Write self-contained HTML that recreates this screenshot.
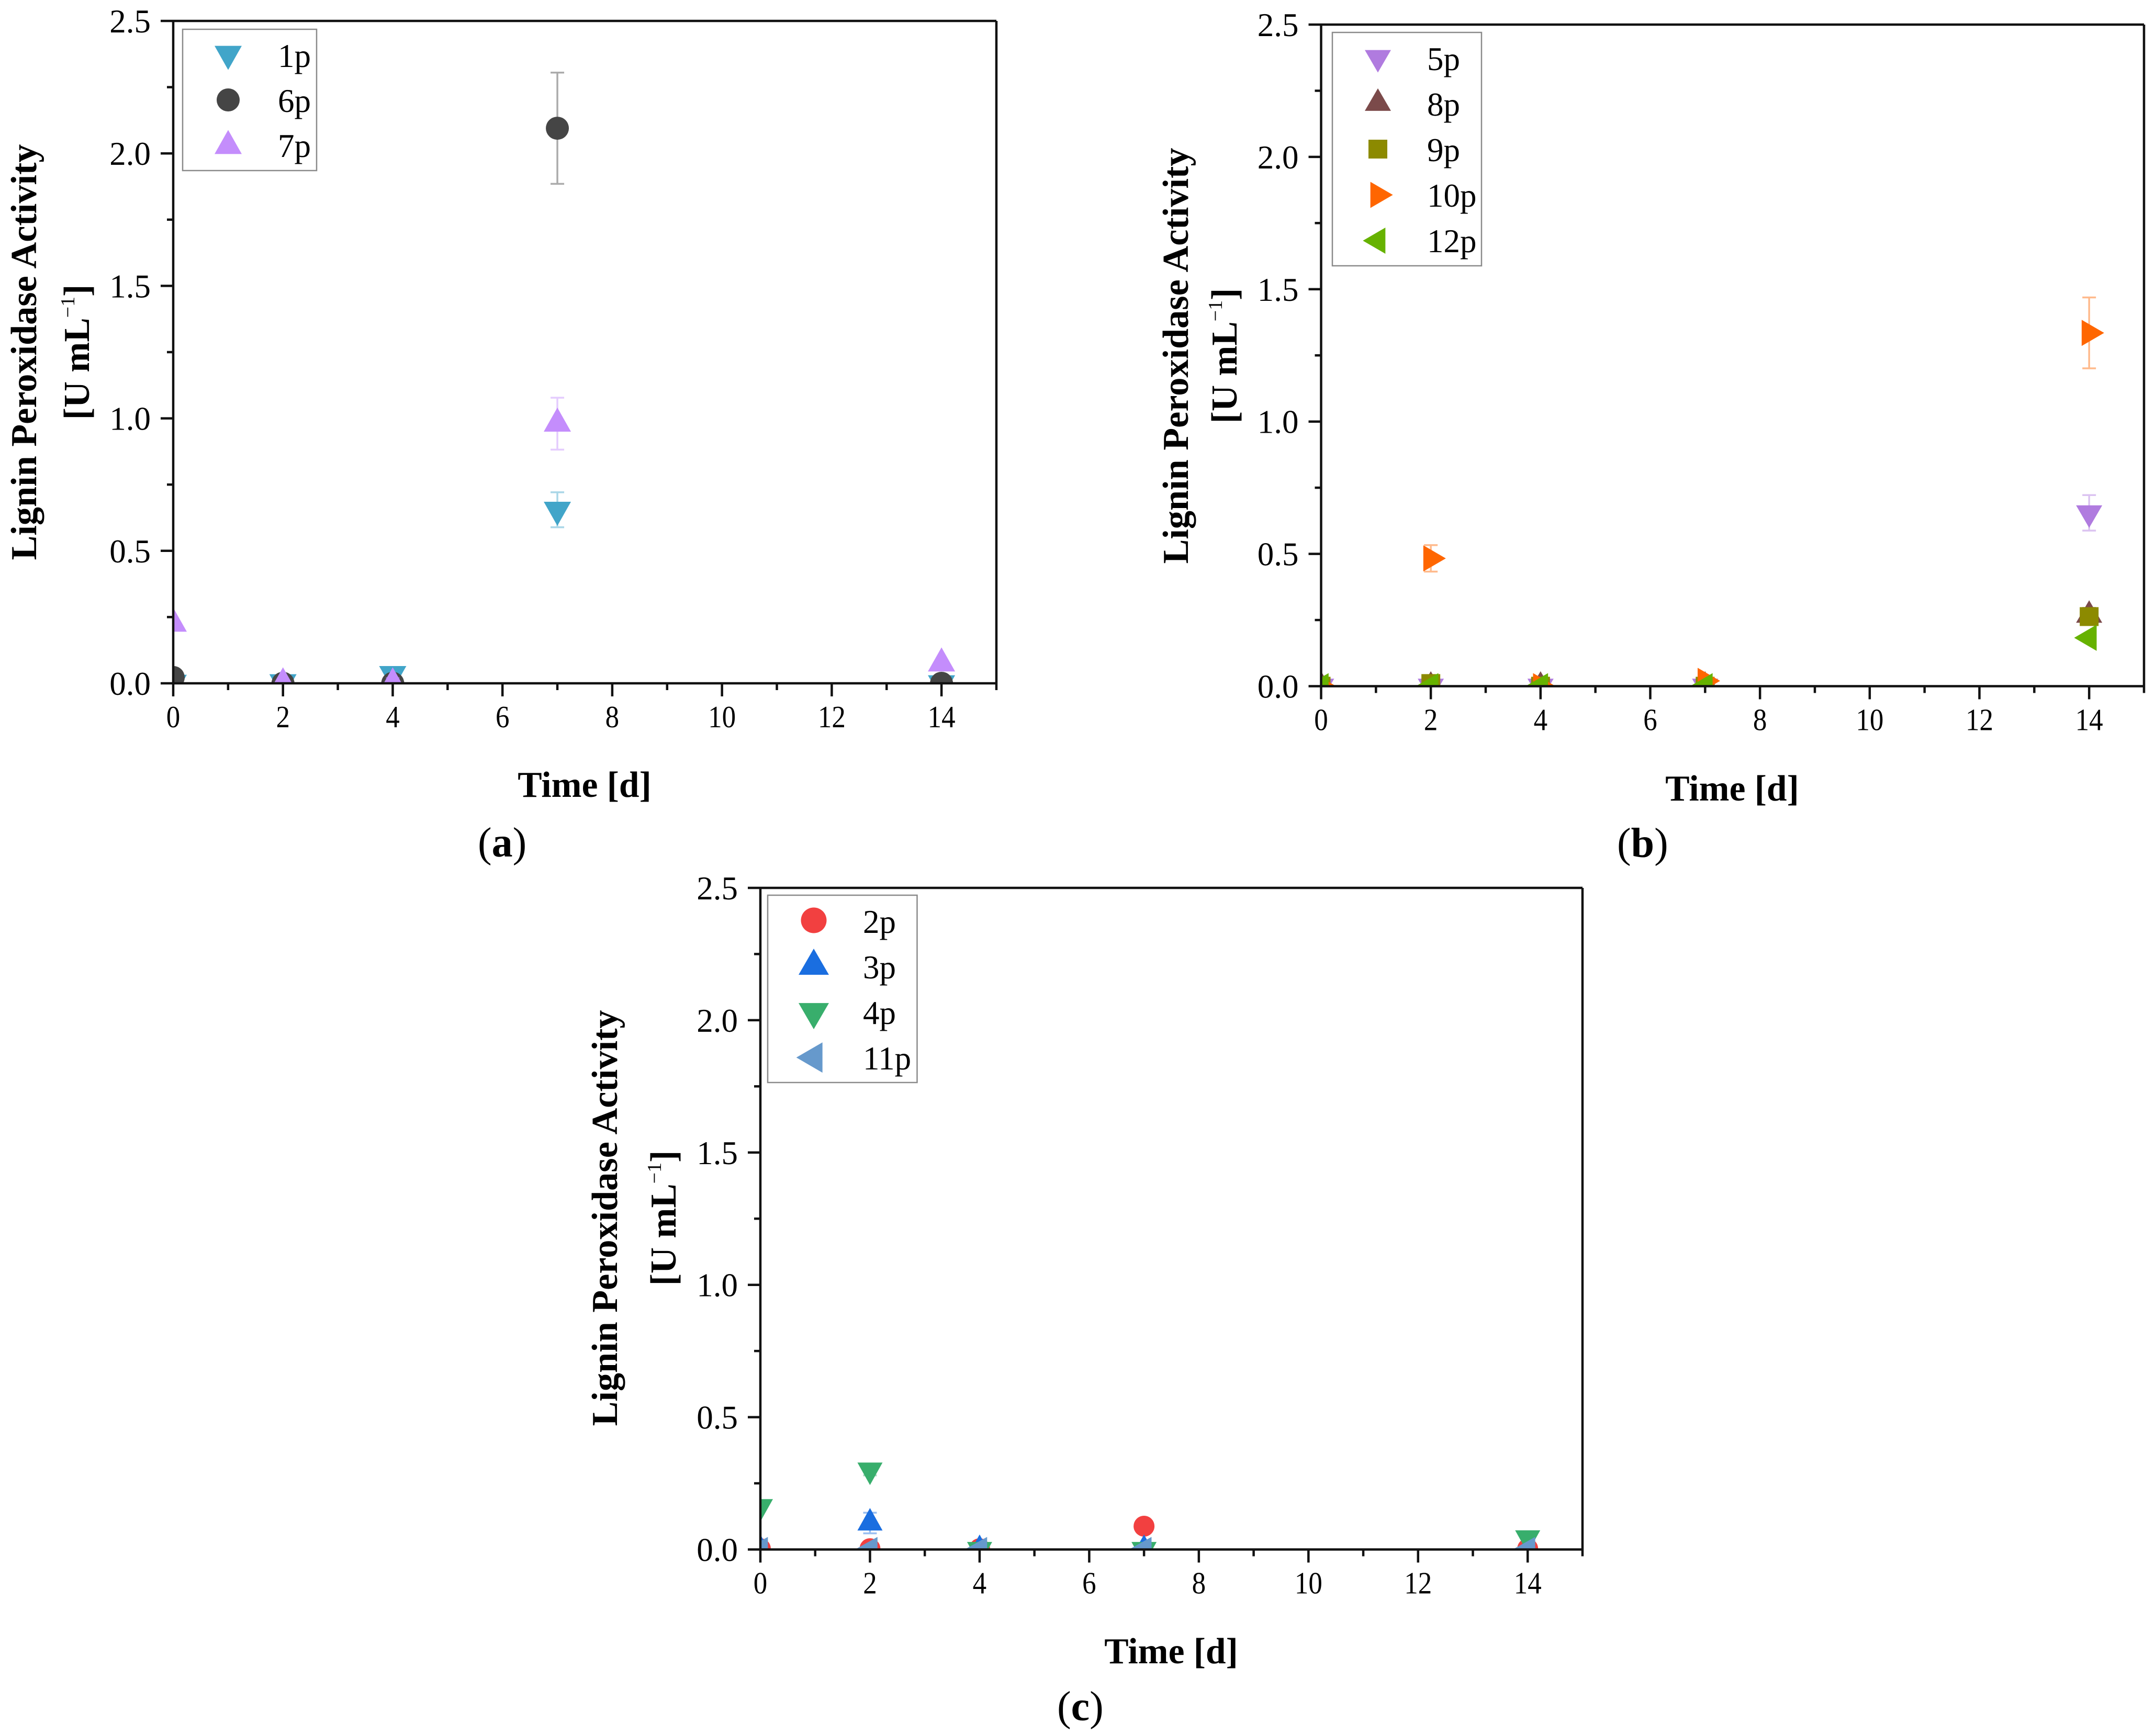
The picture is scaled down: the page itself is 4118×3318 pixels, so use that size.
<!DOCTYPE html>
<html lang="en">
<head>
<meta charset="utf-8">
<title>Lignin Peroxidase Activity</title>
<style>
html,body{margin:0;padding:0;background:#fff;}
svg{display:block;}
text{font-family:"Liberation Serif",serif;fill:#000;}
.title{font-size:69.5px;font-weight:bold;}
.panel-label{font-size:80px;}
</style>
</head>
<body>
<svg id="fig" xmlns="http://www.w3.org/2000/svg" width="4118" height="3318" viewBox="0 0 4118 3318">
  <rect width="4118" height="3318" fill="#fff"/>

  <text class="title" x="1117" y="1523" text-anchor="middle">Time [d]</text>
  <text class="title" transform="translate(69,673) rotate(-90)" text-anchor="middle" textLength="795" lengthAdjust="spacingAndGlyphs">Lignin Peroxidase Activity</text>
  <text class="title" transform="translate(170,673) rotate(-90)" text-anchor="middle">[U mL<tspan font-size="38" font-weight="normal" dy="-28">−1</tspan><tspan dy="28">]</tspan></text>
  <text class="panel-label" x="913" y="1637">(<tspan font-weight="bold">a</tspan>)</text>

  <text class="title" x="3310" y="1530" text-anchor="middle">Time [d]</text>
  <text class="title" transform="translate(2270,680) rotate(-90)" text-anchor="middle" textLength="795" lengthAdjust="spacingAndGlyphs">Lignin Peroxidase Activity</text>
  <text class="title" transform="translate(2363,680) rotate(-90)" text-anchor="middle">[U mL<tspan font-size="38" font-weight="normal" dy="-28">−1</tspan><tspan dy="28">]</tspan></text>
  <text class="panel-label" x="3090" y="1638">(<tspan font-weight="bold">b</tspan>)</text>

  <text class="title" x="2238" y="3179" text-anchor="middle">Time [d]</text>
  <text class="title" transform="translate(1179,2328) rotate(-90)" text-anchor="middle" textLength="795" lengthAdjust="spacingAndGlyphs">Lignin Peroxidase Activity</text>
  <text class="title" transform="translate(1291,2328) rotate(-90)" text-anchor="middle">[U mL<tspan font-size="38" font-weight="normal" dy="-28">−1</tspan><tspan dy="28">]</tspan></text>
  <text class="panel-label" x="2020" y="3288">(<tspan font-weight="bold">c</tspan>)</text>
</svg>
<script>
// ---- shared axes data ----
const days = [0, 2, 4, 7, 14];
const xMajorTicks = [0, 2, 4, 6, 8, 10, 12, 14];
const xMinorTicks = [1, 3, 5, 7, 9, 11, 13, 15];
const yMajorTicks = [0, 0.5, 1, 1.5, 2, 2.5];
const yMinorTicks = [0.25, 0.75, 1.25, 1.75, 2.25];
const yTickLabels = ['0.0', '0.5', '1.0', '1.5', '2.0', '2.5'];
const xTickLabels = ['0', '2', '4', '6', '8', '10', '12', '14'];

// ---- panel (a) values ----
const values1p = [0.002, 0.004, 0.035, 0.655, 0.0];
const errors1p = [0, 0, 0.01, 0.066, 0];
const values6p = [0.022, 0.0, 0.0, 2.095, 0.0];
const errors6p = [0, 0, 0, 0.21, 0];
const values7p = [0.225, 0.0, 0.0, 0.98, 0.075];
const errors7p = [0, 0, 0.02, 0.098, 0];

// ---- panel (b) values ----
const values5p = [0.0, 0.0, 0.0, 0.0, 0.655];
const errors5p = [0, 0, 0, 0, 0.067];
const values8p = [0.0, 0.0, 0.0, 0.0, 0.268];
const errors8p = [0, 0, 0, 0, 0.028];
const values9p = [0.0, 0.01, 0.0, 0.0, 0.263];
const errors9p = [0, 0, 0, 0, 0];
const values10p = [0.0, 0.483, 0.0, 0.02, 1.335];
const errors10p = [0, 0.05, 0, 0, 0.134];
const values12p = [0.0, 0.0, 0.0, 0.0, 0.183];
const errors12p = [0, 0, 0, 0, 0];

// ---- panel (c) values ----
const values2p = [0.003, 0.003, 0.003, 0.088, 0.003];
const errors2p = [0, 0, 0, 0, 0];
const values3p = [0.0, 0.1, 0.0, 0.0, 0.0];
const errors3p = [0, 0.039, 0, 0, 0];
const values4p = [0.162, 0.3, 0.0, 0.0, 0.044];
const errors4p = [0, 0.02, 0, 0, 0];
const values11p = [0.0, 0.0, 0.0, 0.0, 0.0];
const errors11p = [0, 0, 0, 0, 0];

const NS = 'http://www.w3.org/2000/svg';
const fig = document.getElementById('fig');

function make(tag, attrs, parent) {
  const node = document.createElementNS(NS, tag);
  for (const k in attrs) node.setAttribute(k, attrs[k]);
  parent.appendChild(node);
  return node;
}

function markerShape(kind, cx, cy, size, color, parent) {
  let node;
  if (kind === 'circle') {
    node = make('circle', {cx: cx, cy: cy, r: size.r, fill: color}, parent);
  } else if (kind === 'square') {
    node = make('rect', {x: cx - size.sq / 2, y: cy - size.sq / 2, width: size.sq, height: size.sq, fill: color}, parent);
  } else {
    const w = size.tw, h = size.th;
    let pts;
    if (kind === 'up') pts = [[cx, cy - 2 * h / 3], [cx + w / 2, cy + h / 3], [cx - w / 2, cy + h / 3]];
    if (kind === 'down') pts = [[cx, cy + 2 * h / 3], [cx + w / 2, cy - h / 3], [cx - w / 2, cy - h / 3]];
    if (kind === 'right') pts = [[cx + 2 * h / 3, cy], [cx - h / 3, cy - w / 2], [cx - h / 3, cy + w / 2]];
    if (kind === 'left') pts = [[cx - 2 * h / 3, cy], [cx + h / 3, cy - w / 2], [cx + h / 3, cy + w / 2]];
    node = make('polygon', {points: pts.map(p => p.join(',')).join(' '), fill: color}, parent);
  }
  return node;
}

function drawPanel(p) {
  const xScale = d => p.x0 + (d / 15) * (p.x15 - p.x0);
  const yScale = v => p.y0 - (v / 2.5) * (p.y0 - p.yTop);

  const clip = make('clipPath', {id: 'clip-' + p.id}, fig);
  make('rect', {x: xScale(0), y: yScale(2.5), width: xScale(15) - xScale(0), height: yScale(0) - yScale(2.5)}, clip);

  // series marks
  const plot = make('g', {'clip-path': 'url(#clip-' + p.id + ')'}, fig);
  
  
  p.series.forEach(s => {
    const group = make('g', {}, plot);
    
    
    days.forEach((d, i) => {
      const cx = xScale(d);
      if (s.errors[i] > 0) {
        const eb = make('path', {
          d: 'M' + cx + ' ' + yScale(s.values[i] + s.errors[i]) + 'V' + yScale(s.values[i] - s.errors[i]) +
             'M' + (cx - 13) + ' ' + yScale(s.values[i] + s.errors[i]) + 'h26' +
             'M' + (cx - 13) + ' ' + yScale(s.values[i] - s.errors[i]) + 'h26',
          fill: 'none', stroke: s.color, 'stroke-width': 3.5, 'stroke-opacity': 0.45
        }, group);
        
        
      }
      const mark = markerShape(s.kind, cx, yScale(s.values[i]), p.plotSize, s.color, group);
      
      
    });
  });

  // axes
  const axes = make('g', {stroke: '#111', 'stroke-width': 4.5, fill: 'none'}, fig);
  
  
  const frame = make('path', {
    d: 'M' + xScale(0) + ' ' + yScale(2.5) + 'V' + yScale(0) +
       'M' + xScale(0) + ' ' + yScale(2.5) + 'H' + xScale(15) +
       'M' + xScale(15) + ' ' + yScale(2.5) + 'V' + yScale(0) +
       'M' + xScale(0) + ' ' + yScale(0) + 'H' + xScale(15)
  }, axes);
  
  

  xMajorTicks.forEach((t, i) => {
    const tick = make('line', {x1: xScale(t), x2: xScale(t), y1: yScale(0), y2: yScale(0) + 25}, axes);
    
    
    const n = xTickLabels[i].length;
    const label = make('text', {x: xScale(t), y: yScale(0) + 84, 'text-anchor': 'middle', 'font-size': 59, textLength: 26.5 * n, lengthAdjust: 'spacingAndGlyphs'}, fig);
    label.textContent = xTickLabels[i];
    
    
  });
  xMinorTicks.forEach(t => {
    const tick = make('line', {x1: xScale(t), x2: xScale(t), y1: yScale(0), y2: yScale(0) + 13}, axes);
    
    
  });
  yMajorTicks.forEach((t, i) => {
    const tick = make('line', {x1: xScale(0) - 24, x2: xScale(0), y1: yScale(t), y2: yScale(t)}, axes);
    
    
    const label = make('text', {x: xScale(0) - 43, y: yScale(t) + 22, 'text-anchor': 'end', 'font-size': 63}, fig);
    label.textContent = yTickLabels[i];
    
    
  });
  yMinorTicks.forEach(t => {
    const tick = make('line', {x1: xScale(0) - 12, x2: xScale(0), y1: yScale(t), y2: yScale(t)}, axes);
    
    
  });

  // legend
  const L = p.legend;
  const legend = make('g', {}, fig);
  
  
  const box = make('rect', {x: L.x, y: L.y, width: L.w, height: L.h, fill: '#fff', stroke: '#8a8a8a', 'stroke-width': 2.5}, legend);
  
  
  p.series.forEach((s, i) => {
    const icon = markerShape(s.kind, L.mx, L.my + i * L.mStep, L.size, s.color, legend);
    
    
    const label = make('text', {x: L.tx, y: L.ty + i * L.tStep, 'font-size': 63}, legend);
    label.textContent = s.name;
    
    
  });
}

drawPanel({
  id: 'a', x0: 331, x15: 1904, y0: 1306, yTop: 40,
  plotSize: {tw: 52, th: 46, r: 22, sq: 36},
  legend: {x: 349, y: 56, w: 256, h: 270, mx: 436, my: 103, mStep: 88, tx: 531, ty: 128, tStep: 86, size: {tw: 52, th: 46, r: 22, sq: 36}},
  series: [
    {name: '1p', kind: 'down', color: '#41a5c9', values: values1p, errors: errors1p},
    {name: '6p', kind: 'circle', color: '#454545', values: values6p, errors: errors6p},
    {name: '7p', kind: 'up', color: '#c48dfc', values: values7p, errors: errors7p}
  ]
});

drawPanel({
  id: 'b', x0: 2524.5, x15: 4097, y0: 1311.5, yTop: 47,
  plotSize: {tw: 50, th: 43, r: 22, sq: 36},
  legend: {x: 2546, y: 62, w: 285, h: 446, mx: 2633, my: 110, mStep: 87.5, tx: 2727, ty: 134, tStep: 87, size: {tw: 50, th: 43, r: 22, sq: 36}},
  series: [
    {name: '5p', kind: 'down', color: '#b07bdf', values: values5p, errors: errors5p},
    {name: '8p', kind: 'up', color: '#7b4a4a', values: values8p, errors: errors8p},
    {name: '9p', kind: 'square', color: '#8c8a00', values: values9p, errors: errors9p},
    {name: '10p', kind: 'right', color: '#ff6600', values: values10p, errors: errors10p},
    {name: '12p', kind: 'left', color: '#66b200', values: values12p, errors: errors12p}
  ]
});

drawPanel({
  id: 'c', x0: 1453, x15: 3024, y0: 2961.5, yTop: 1697,
  plotSize: {tw: 48, th: 43, r: 20, sq: 36},
  legend: {x: 1467, y: 1711, w: 285.5, h: 358, mx: 1555, my: 1759, mStep: 87.4, tx: 1649, ty: 1783, tStep: 87, size: {tw: 58, th: 50, r: 24.5, sq: 40}},
  series: [
    {name: '2p', kind: 'circle', color: '#f24040', values: values2p, errors: errors2p},
    {name: '3p', kind: 'up', color: '#1a6ee0', values: values3p, errors: errors3p},
    {name: '4p', kind: 'down', color: '#38ae6c', values: values4p, errors: errors4p},
    {name: '11p', kind: 'left', color: '#6699cc', values: values11p, errors: errors11p}
  ]
});
</script>
</body>
</html>
